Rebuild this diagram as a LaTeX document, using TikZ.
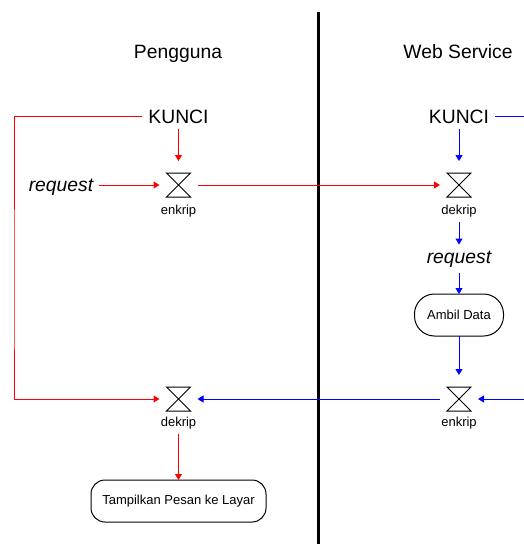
\documentclass[tikz,border=0pt]{standalone}
\usepackage{fontspec}
\setmainfont{Liberation Sans}
\usepackage{tikz}
\usetikzlibrary{arrows.meta,positioning}
\tikzset{
  lane/.style={font=\fontsize{19.3}{23}\selectfont, inner sep=0pt, outer sep=6pt},
  req/.style={lane, font=\fontsize{19.3}{23}\selectfont\itshape},
  proc/.style={font=\fontsize{13}{15}\selectfont, inner sep=0pt, outer sep=5pt},
  act/.style={draw, line width=1pt, minimum height=42pt, inner sep=0pt,
    outer sep=0pt, font=\fontsize{13}{15}\selectfont},
  hg/.style={minimum width=24pt, minimum height=24pt, inner sep=0pt,
    outer xsep=7pt, outer ysep=12pt},
  hgline/.style={line width=1pt, line join=miter},
  divider/.style={line width=3pt}
}
\tikzstyle{redflow} = [red, line width=1pt, -{Triangle[length=6pt,width=7pt]}]
\tikzstyle{blueflow} = [blue, line width=1pt, -{Triangle[length=6pt,width=7pt]}]

\begin{document}
\begin{tikzpicture}[x=1pt, y=-1pt]
  \useasboundingbox (0,0) rectangle (524,544);
  \clip (0,0) rectangle (524,544);
  % swimlanes
  \coordinate (divtop) at (318,12);
  \coordinate (divbot) at (318,550);
  \draw[divider] (divtop) -- (divbot);
  \node[lane, anchor=base] (pengguna) at (178,58) {Pengguna};
  \node[lane, anchor=base] (websvc) at (458,58) {Web Service};

  % pengguna side
  \node[lane, anchor=base] (kunciP) at (178.5,123) {KUNCI};
  \node[req, anchor=base] (reqP) at (61,191) {request};
  \node[hg] (enkP) at (178.5,185) {};
  \node[proc, anchor=base] (enkPlbl) at (178.5,214) {enkrip};
  \node[hg] (dekP) at (178.5,399) {};
  \node[proc, anchor=base] (dekPlbl) at (178.5,426) {dekrip};
  \node[act, minimum width=175pt, rounded corners=14pt] (tampil) at (178.5,501)
    {Tampilkan Pesan ke Layar};
  \coordinate (kturnP) at (14,300);

  % web service side
  \node[lane, anchor=base] (kunciW) at (459,123) {KUNCI};
  \node[hg] (dekW) at (459,185) {};
  \node[proc, anchor=base] (dekWlbl) at (459,214) {dekrip};
  \node[req, anchor=base] (reqW) at (459,263) {request};
  \node[act, minimum width=89pt, rounded corners=20pt] (ambil) at (459,315)
    {Ambil Data};
  \node[hg] (enkW) at (459,399) {};
  \node[proc, anchor=base] (enkWlbl) at (459,426) {enkrip};
  \coordinate (kturnW) at (540,300);

  % hourglass symbols
  \foreach \n in {enkP,dekP,dekW,enkW}
    \draw[hgline, shift={(\n.center)}] (-12,-12) -- (12,-12) -- (-12,12)
      -- (12,12) -- cycle;

  % red flows
  \draw[redflow] (kunciP.south) -- (enkP.north);
  \draw[redflow] (reqP.east |- enkP.west) -- (enkP.west);
  \draw[redflow] (enkP.east) -- (dekW.west);
  \draw[redflow] (kunciP.west) -| (kturnP) |- (dekP.west);
  \draw[redflow] (dekPlbl.south) -- (tampil.north);

  % blue flows
  \draw[blueflow] (kunciW.south) -- (dekW.north);
  \draw[blueflow] (dekWlbl.south) -- (reqW.north);
  \draw[blueflow] (reqW.south) -- (ambil.north);
  \draw[blueflow] (ambil.south) -- (enkW.north);
  \draw[blueflow] (kunciW.east) -| (kturnW) |- (enkW.east);
  \draw[blueflow] (enkW.west) -- (dekP.east);
\end{tikzpicture}
\end{document}
